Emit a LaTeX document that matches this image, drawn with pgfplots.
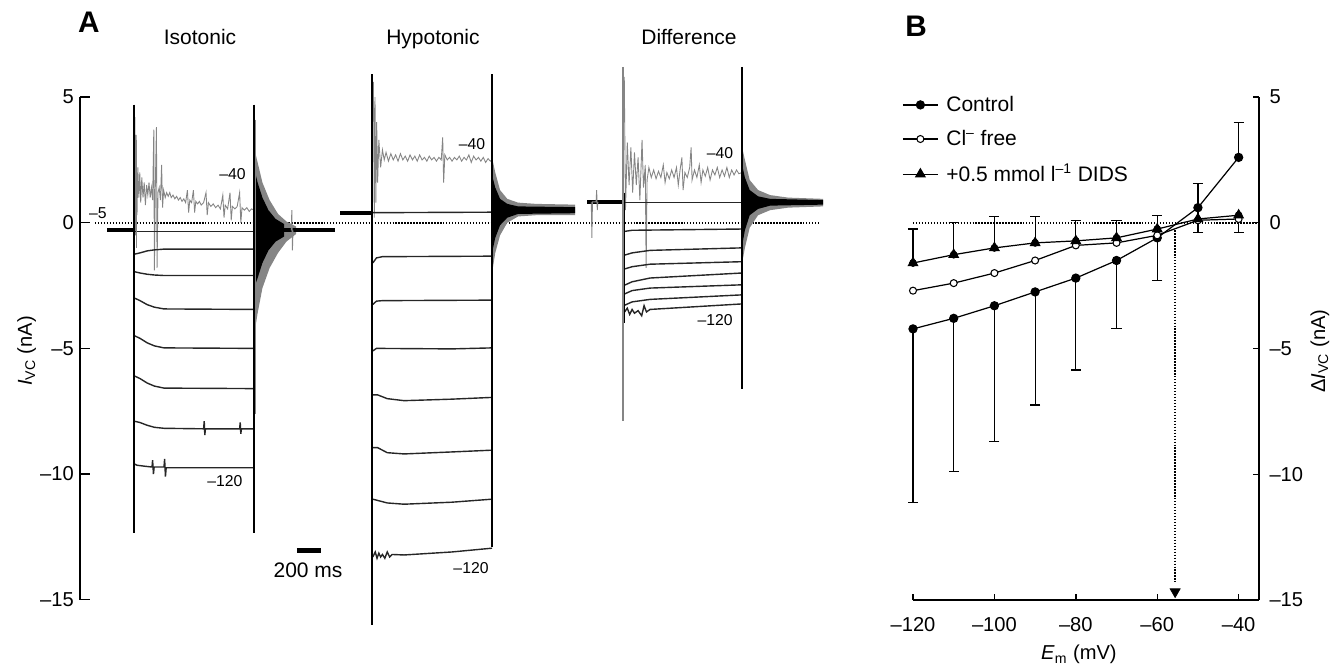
\documentclass[border=0pt]{standalone}
\usepackage{fontspec}
\setmainfont{Liberation Sans}
\usepackage{pgfplots}
\pgfplotsset{compat=1.18}
\definecolor{trc}{HTML}{262626}
\definecolor{noise}{HTML}{858585}

\pgfplotsset{
  noaxarrows/.style={
    axis line style={-},
    every inner x axis line/.append style={-},
    every inner y axis line/.append style={-},
    every outer x axis line/.append style={-},
    every outer y axis line/.append style={-},
  },
  steptr/.style={trc, line width=0.8pt, forget plot},
  noisetr/.style={noise, line width=0.5pt, forget plot},
  dotline/.style={black, line width=0.9pt, dash pattern=on 0.8pt off 0.9pt, forget plot},
}

\begin{document}
\begin{tikzpicture}
\useasboundingbox (0pt,0pt) rectangle (763.39pt,380.55pt);

% ---------------- Panel A : current traces ----------------
\begin{axis}[
  at={(45.71pt,37.88pt)}, anchor=south west, scale only axis,
  width=434.3pt, height=287.2pt,
  xmin=0, xmax=6333, ymin=-15, ymax=5,
  axis x line=none, axis y line=left, noaxarrows,
  axis line style={line width=0.8pt, black},
  ytick={-15,-10,-5,0,5}, yticklabels={–15,–10,–5,0,5},
  tick align=inside, major tick length=5.7pt,
  tick style={line width=0.8pt, black},
  yticklabel style={font=\fontsize{11.5}{13}\selectfont},
  clip=false,
]
% zero line
\addplot[dotline] coordinates {(125,0)(6167,0)};

% ===== Isotonic (onset 450 ms, offset 1450 ms) =====
\addplot[noisetr] coordinates {(458,4.2)(463,-0.5)(468,3.5)(475,0.3)(482,2.2)(490,1.0)(498,2.0)(506,0.8)(515,1.8)(525,1.0)(535,1.6)(545,0.7)(555,1.5)(565,1.1)(575,1.6)(585,1.0)(595,1.4)(605,0.9)(615,3.7)(620,-1.9)(627,1.3)(637,3.8)(642,-1.8)(650,1.2)(660,1.4)(670,0.9)(680,2.3)(688,0.6)(697,1.3)(710,1.0)(722,1.2)(735,1.05)(748,1.2)(760,1.0)(775,1.1)(790,0.95)(805,1.05)(820,0.9)(835,1.0)(850,0.85)(865,0.95)(880,0.8)(895,1.3)(905,0.4)(915,0.9)(930,0.8)(945,1.3)(955,0.4)(965,0.85)(980,0.75)(995,0.85)(1010,0.7)(1030,0.8)(1050,1.2)(1060,0.3)(1070,0.8)(1090,0.65)(1110,0.75)(1130,0.6)(1150,0.7)(1170,0.55)(1190,1.1)(1200,0.2)(1210,0.7)(1230,0.55)(1250,1.2)(1260,0.1)(1270,0.65)(1290,0.55)(1310,0.65)(1330,1.2)(1340,0.0)(1350,0.6)(1370,0.5)(1390,0.6)(1410,0.45)(1430,0.55)(1450,0.5)};
\addplot[steptr] coordinates {(455,-0.35)(1450,-0.35)};
\addplot[steptr] coordinates {(455,-1.25)(500,-1.2)(560,-1.12)(620,-1.08)(700,-1.05)(1450,-1.05)};
\addplot[steptr] coordinates {(455,-1.95)(500,-2.0)(560,-2.05)(620,-2.08)(700,-2.1)(1450,-2.1)};
\addplot[steptr] coordinates {(455,-3.0)(500,-3.1)(560,-3.26)(620,-3.36)(700,-3.43)(1450,-3.45)};
\addplot[steptr] coordinates {(455,-4.5)(500,-4.6)(560,-4.78)(620,-4.9)(700,-4.98)(1450,-5.0)};
\addplot[steptr] coordinates {(455,-6.1)(500,-6.2)(560,-6.38)(620,-6.5)(700,-6.58)(1450,-6.6)};
\addplot[steptr] coordinates {(455,-7.9)(500,-7.95)(560,-8.06)(620,-8.14)(700,-8.18)(1030,-8.2)(1035,-7.9)(1040,-8.45)(1045,-8.2)(1330,-8.2)(1335,-7.95)(1340,-8.4)(1345,-8.2)(1450,-8.2)};
\addplot[steptr] coordinates {(455,-9.6)(475,-9.65)(560,-9.7)(600,-9.72)(605,-9.45)(612,-10.0)(618,-9.72)(700,-9.72)(705,-9.4)(712,-10.1)(718,-9.75)(1450,-9.75)};
\addplot[black, line width=2.3pt, forget plot] coordinates {(225,-0.3)(450,-0.3)};
% offset tail (dense noise envelope)
\addplot[fill=noise, draw=none, forget plot] coordinates {(1450,3.0)(1480,2.4)(1520,1.6)(1580,0.9)(1650,0.35)(1720,0.05)(1800,-0.15)(1800,-0.45)(1720,-0.75)(1650,-1.2)(1580,-1.8)(1520,-2.6)(1480,-3.6)(1450,-4.5)} -- cycle;
\addplot[fill=black, draw=none, forget plot] coordinates {(1450,2.2)(1480,1.6)(1520,1.0)(1570,0.5)(1630,0.15)(1700,-0.05)(1700,-0.55)(1630,-0.75)(1570,-1.1)(1520,-1.6)(1480,-2.2)(1450,-2.6)} -- cycle;
\addplot[black, line width=2.5pt, forget plot] coordinates {(1450,-0.3)(2125,-0.3)};
\addplot[noisetr] coordinates {(1760,-0.3)(1765,0.5)(1770,-1.1)(1775,-0.3)};
\addplot[black, line width=0.9pt, forget plot] coordinates {(450,4.7)(450,-12.35)};
\addplot[noisetr, line width=0.7pt] coordinates {(468,3.3)(468,-1.0)};
\addplot[black, line width=1.3pt, forget plot] coordinates {(1450,4.7)(1450,-12.35)};
\addplot[noisetr, line width=0.7pt] coordinates {(1462,4.1)(1462,-7.6)};

% ===== Hypotonic (onset 2433 ms, offset 3433 ms) =====
\addplot[noisetr] coordinates {(2445,5.6)(2452,0.2)(2458,5.0)(2465,0.8)(2472,4.0)(2480,1.6)(2490,3.3)(2505,2.2)(2520,2.9)(2535,2.5)(2550,2.8)(2570,2.45)(2590,2.75)(2610,2.5)(2630,2.7)(2650,2.45)(2670,2.75)(2690,2.5)(2710,2.65)(2730,2.45)(2750,2.7)(2770,2.5)(2790,2.65)(2810,2.45)(2830,2.7)(2850,2.5)(2870,2.6)(2890,2.45)(2910,2.65)(2930,2.5)(2950,2.6)(2970,2.45)(2990,2.6)(3010,2.5)(3022,3.4)(3030,1.6)(3040,2.7)(3060,2.5)(3080,2.6)(3100,2.45)(3120,2.6)(3140,2.5)(3160,2.65)(3180,2.45)(3200,2.6)(3220,2.5)(3240,2.7)(3260,2.4)(3280,2.65)(3300,2.5)(3320,2.6)(3340,2.45)(3360,2.6)(3380,2.4)(3400,2.55)(3420,2.45)(3433,2.5)};
\addplot[steptr] coordinates {(2440,0.4)(3433,0.42)};
\addplot[steptr] coordinates {(2440,-1.6)(2470,-1.4)(2520,-1.35)(3433,-1.33)};
\addplot[steptr] coordinates {(2440,-3.25)(2470,-3.12)(2520,-3.1)(3433,-3.08)};
\addplot[steptr] coordinates {(2440,-5.1)(2470,-5.0)(3100,-5.02)(3433,-4.98)};
\addplot[steptr] coordinates {(2440,-6.85)(2480,-6.85)(2560,-7.0)(2700,-7.08)(3100,-7.02)(3433,-6.95)};
\addplot[steptr] coordinates {(2440,-8.95)(2480,-8.95)(2560,-9.15)(2700,-9.2)(3100,-9.12)(3433,-9.05)};
\addplot[steptr] coordinates {(2440,-11.0)(2480,-11.05)(2560,-11.15)(2700,-11.2)(3100,-11.12)(3433,-11.0)};
\addplot[steptr] coordinates {(2440,-13.3)(2460,-13.1)(2475,-13.35)(2490,-13.15)(2505,-13.3)(2520,-13.2)(2540,-13.35)(2560,-13.1)(2580,-13.3)(2600,-13.2)(2700,-13.22)(3100,-13.1)(3433,-12.95)};
\addplot[black, line width=2.3pt, forget plot] coordinates {(2167,0.4)(2433,0.4)};
\addplot[fill=noise, draw=none, forget plot] coordinates {(3433,2.6)(3460,2.0)(3500,1.3)(3560,0.95)(3650,0.8)(3800,0.75)(4125,0.72)(4125,0.3)(3800,0.3)(3650,0.25)(3560,0.0)(3500,-0.5)(3460,-1.2)(3433,-2.0)} -- cycle;
\addplot[fill=black, draw=none, forget plot] coordinates {(3433,1.9)(3460,1.4)(3500,0.95)(3560,0.75)(3650,0.65)(4125,0.62)(4125,0.38)(3650,0.35)(3560,0.2)(3500,-0.1)(3460,-0.6)(3433,-1.2)} -- cycle;
\addplot[black, line width=1.2pt, forget plot] coordinates {(2433,5.9)(2433,-16.0)};
\addplot[black, line width=0.9pt, forget plot] coordinates {(3433,5.9)(3433,-12.9)};

% ===== Difference (onset 4525 ms, offset 5517 ms) =====
\addplot[noisetr] coordinates {(4535,5.8)(4545,0.5)(4560,3.2)(4575,1.5)(4590,3.0)(4605,1.2)(4620,2.8)(4635,1.5)(4650,2.6)(4665,0.9)(4683,3.3)(4695,1.4)(4710,2.3)(4717,-1.8)(4725,1.7)(4740,2.2)(4760,1.8)(4780,2.1)(4800,1.75)(4820,2.05)(4840,1.8)(4860,2.3)(4875,1.6)(4890,2.0)(4910,1.75)(4930,2.1)(4950,1.8)(4970,2.2)(4985,1.5)(5000,2.1)(5015,2.6)(5025,1.3)(5040,2.0)(5060,1.8)(5080,2.2)(5092,3.0)(5100,1.7)(5120,2.1)(5140,1.8)(5160,2.3)(5175,1.6)(5190,2.1)(5210,1.85)(5230,2.2)(5250,1.7)(5270,2.1)(5290,1.9)(5310,2.2)(5330,1.8)(5350,2.1)(5370,1.85)(5390,2.2)(5410,1.8)(5430,2.1)(5450,1.9)(5470,2.1)(5490,1.95)(5517,2.0)};
\addplot[steptr] coordinates {(4530,0.8)(5517,0.8)};
\addplot[steptr] coordinates {(4530,-0.35)(4600,-0.3)(5517,-0.25)};
\addplot[steptr] coordinates {(4530,-1.3)(4600,-1.2)(4750,-1.1)(5517,-1.0)};
\addplot[steptr] coordinates {(4530,-1.85)(4600,-1.75)(4750,-1.65)(5517,-1.55)};
\addplot[steptr] coordinates {(4530,-2.5)(4600,-2.35)(4750,-2.2)(5517,-2.0)};
\addplot[steptr] coordinates {(4530,-2.85)(4600,-2.7)(4750,-2.6)(5517,-2.47)};
\addplot[steptr] coordinates {(4530,-3.3)(4600,-3.15)(4750,-3.05)(5517,-2.87)};
\addplot[steptr] coordinates {(4530,-3.6)(4560,-3.4)(4580,-3.65)(4600,-3.45)(4620,-3.6)(4650,-3.5)(4680,-3.7)(4700,-3.3)(4720,-3.55)(4750,-3.45)(5517,-3.23)};
\addplot[black, line width=2.3pt, forget plot] coordinates {(4225,0.83)(4525,0.83)};
\addplot[noisetr] coordinates {(4260,0.83)(4265,-0.6)(4270,0.83)(4300,0.83)(4305,1.3)(4310,0.5)(4315,0.83)};
\addplot[fill=noise, draw=none, forget plot] coordinates {(5517,3.0)(5540,2.5)(5580,1.7)(5650,1.3)(5750,1.1)(5900,1.0)(6192,0.95)(6192,0.65)(5900,0.6)(5750,0.5)(5650,0.3)(5580,-0.2)(5540,-1.0)(5517,-1.6)} -- cycle;
\addplot[fill=black, draw=none, forget plot] coordinates {(5517,2.3)(5540,1.8)(5580,1.3)(5650,1.05)(5750,0.95)(6192,0.9)(6192,0.72)(5750,0.68)(5650,0.55)(5580,0.3)(5540,-0.3)(5517,-0.9)} -- cycle;
\addplot[noise, line width=1.0pt, forget plot] coordinates {(4525,6.2)(4525,-7.9)};
\addplot[black, line width=0.8pt, forget plot] coordinates {(4535,1.2)(4535,-4.0)};
\addplot[black, line width=1.5pt, forget plot] coordinates {(5517,6.2)(5517,-6.6)};

% scale bar
\addplot[black, line width=2.9pt, forget plot] coordinates {(1808,-13.03)(2008,-13.03)};

% trace labels
\node[font=\fontsize{9}{10}\selectfont] at (axis cs:150,0.4) {–5};
\node[font=\fontsize{9}{10}\selectfont] at (axis cs:1271,1.92) {–40};
\node[font=\fontsize{9}{10}\selectfont] at (axis cs:1208,-10.27) {–120};
\node[font=\fontsize{9}{10}\selectfont] at (axis cs:3267,3.12) {–40};
\node[font=\fontsize{9}{10}\selectfont] at (axis cs:3258,-13.73) {–120};
\node[font=\fontsize{9}{10}\selectfont] at (axis cs:5333,2.79) {–40};
\node[font=\fontsize{9}{10}\selectfont] at (axis cs:5292,-3.86) {–120};
\end{axis}

% ---------------- Panel B : I-V relation ----------------
\begin{axis}[
  at={(521.69pt,37.71pt)}, anchor=south west, scale only axis,
  width=197.7pt, height=287.4pt,
  xmin=-120, xmax=-35, ymin=-15, ymax=5,
  axis x line=bottom, axis y line=right, noaxarrows,
  axis line style={line width=0.8pt, black},
  xtick={-120,-100,-80,-60,-40}, xticklabels={–120,–100,–80,–60,–40},
  ytick={-15,-10,-5,0,5}, yticklabels={–15,–10,–5,0,5},
  tick align=inside, major tick length=3.5pt,
  tick style={line width=0.8pt, black},
  ticklabel style={font=\fontsize{11.5}{13}\selectfont},
  xticklabel style={yshift=-6.5pt},
  yticklabel style={xshift=2.5pt},
  clip=false,
  legend style={at={(-0.032,1.008)}, anchor=north west, draw=none, fill=none,
    font=\fontsize{12}{14}\selectfont, inner sep=0pt, row sep=6.3pt,
    nodes={inner sep=1.5pt}},
  legend cell align=left,
  legend image code/.code={
    \draw[mark repeat=2,mark phase=2,#1] plot coordinates {(0pt,0pt) (10pt,0pt) (20pt,0pt)};},
]
\addplot[dotline] coordinates {(-120,0)(-35,0)};
\addplot[dotline] coordinates {(-55.6,-0.3)(-55.6,-14.3)};
\addplot[black, only marks, mark=triangle*, mark size=3.3pt, mark options={rotate=180}, forget plot] coordinates {(-55.6,-14.67)};

% error bars (downward)
\addplot[black, only marks, mark=none, forget plot,
  error bars/.cd, y dir=minus, y explicit,
  error bar style={line width=0.7pt, black},
  error mark options={rotate=90, mark size=2.9pt, line width=0.7pt, black}]
  table[x=x, y=y, y error=e] {
x y e
-120 -4.22 6.9
-110 -3.8 6.1
-100 -3.3 5.4
-90 -2.75 4.5
-80 -2.2 3.65
-70 -1.5 2.7
-60 -0.6 1.7
-50 0.6 1.0
-40 0.3 0.7
};
% error bars (upward)
\addplot[black, only marks, mark=none, forget plot,
  error bars/.cd, y dir=plus, y explicit,
  error bar style={line width=0.7pt, black},
  error mark options={rotate=90, mark size=2.9pt, line width=0.7pt, black}]
  table[x=x, y=y, y error=e] {
x y e
-120 -1.6 1.35
-110 -1.27 1.27
-100 -1.0 1.25
-90 -0.8 1.05
-80 -0.72 0.8
-70 -0.6 0.68
-60 -0.25 0.55
-50 0.6 0.95
-40 2.6 1.4
};

\addplot[black, line width=0.7pt, mark=*, mark size=2.3pt, mark options={fill=black}] coordinates {(-120,-4.22)(-110,-3.8)(-100,-3.3)(-90,-2.75)(-80,-2.2)(-70,-1.5)(-60,-0.6)(-50,0.6)(-40,2.6)};
\addlegendentry{\hspace{3pt}Control}
\addplot[black, line width=0.7pt, mark=*, mark size=2.0pt, mark options={fill=white, line width=0.6pt}] coordinates {(-120,-2.7)(-110,-2.4)(-100,-2.0)(-90,-1.5)(-80,-0.9)(-70,-0.8)(-60,-0.5)(-50,0.1)(-40,0.15)};
\addlegendentry{\hspace{3pt}Cl\textsuperscript{–} free}
\addplot[black, line width=0.7pt, mark=triangle*, mark size=3.0pt, mark options={fill=black}] coordinates {(-120,-1.6)(-110,-1.27)(-100,-1.0)(-90,-0.8)(-80,-0.72)(-70,-0.6)(-60,-0.25)(-50,0.15)(-40,0.3)};
\addlegendentry{\hspace{3pt}+0.5 mmol l\textsuperscript{–1} DIDS}
\end{axis}

% titles and labels
\node[font=\fontsize{17}{20}\selectfont\bfseries] at (50.85pt,367.98pt) {A};
\node[font=\fontsize{17}{20}\selectfont\bfseries] at (523.4pt,365.7pt) {B};
\node[font=\fontsize{12}{14}\selectfont, anchor=base] at (114.28pt,355.2pt) {Isotonic};
\node[font=\fontsize{12}{14}\selectfont, anchor=base] at (247.4pt,355.2pt) {Hypotonic};
\node[font=\fontsize{12}{14}\selectfont, anchor=base] at (393.7pt,355.2pt) {Difference};
\node[font=\fontsize{12}{14}\selectfont, anchor=base] at (176.0pt,50.85pt) {200 ms};
\node[font=\fontsize{11.5}{13}\selectfont, rotate=90, anchor=base] at (18.28pt,180.0pt) {\textit{I}\textsubscript{VC} (nA)};
\node[font=\fontsize{11.5}{13}\selectfont, rotate=90, anchor=base] at (757.1pt,180.0pt) {Δ\textit{I}\textsubscript{VC} (nA)};
\node[font=\fontsize{11.5}{13}\selectfont, anchor=base] at (616.5pt,3.43pt) {\textit{E}\textsubscript{m} (mV)};
\end{tikzpicture}
\end{document}
